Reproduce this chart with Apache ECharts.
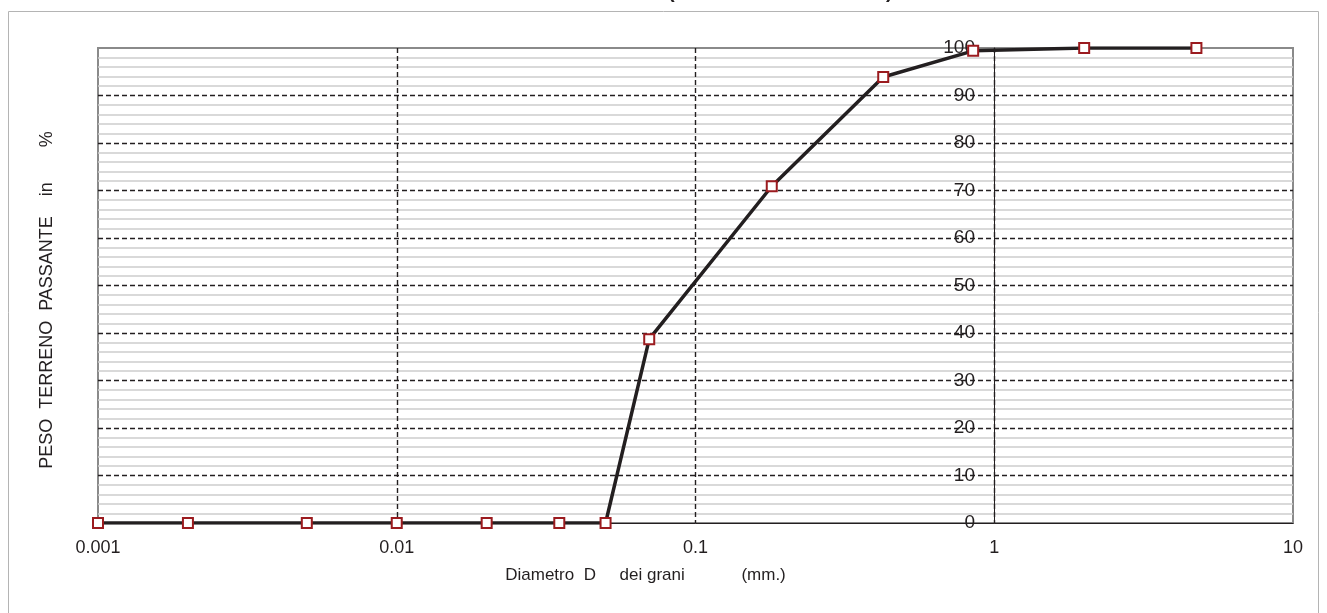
<!DOCTYPE html>
<html>
<head>
<meta charset="utf-8">
<script src="https://cdn.jsdelivr.net/npm/echarts@6/dist/echarts.min.js"></script>
<style>
html,body{margin:0;padding:0;background:#fff;}
#curva{width:1327px;height:613px;}
</style>
</head>
<body>
<div id="curva"></div>
<script>
// diametri (mm) e passante (%)
var diametri = [0.001, 0.002, 0.005, 0.01, 0.02, 0.035, 0.05, 0.07, 0.18, 0.425, 0.85, 2, 4.75];
var passante = [0, 0, 0, 0, 0, 0, 0, 38.7, 70.9, 93.9, 99.4, 100, 100];
var xTicks = ['0.001', '0.01', '0.1', '1', '10'];
var yTicks = ['0', '10', '20', '30', '40', '50', '60', '70', '80', '90', '100'];

var FONT = 'Liberation Sans, Arial, sans-serif';
var INK = '#231f20';

var myChart = echarts.init(document.getElementById('curva'));

var punti = [];
for (var k = 0; k < diametri.length; k++) {
	punti.push([diametri[k], passante[k]]);
}

option = {
	animation: false,
	grid: {
		left: 98, right: 34, top: 48, bottom: 90,
		show: true, borderColor: '#8a8a8a', borderWidth: 2
	},
	graphic: [
		{ type: 'rect', shape: { x: 8.5, y: 11.5, width: 1310, height: 640 },
		  style: { fill: 'none', stroke: '#b4b4b4', lineWidth: 1 }, z: -1 },
		{ type: 'text', x: 668, y: 2, style: { text: '(', font: 'bold 20px ' + FONT, fill: INK, verticalAlign: 'bottom' } },
		{ type: 'text', x: 886, y: 2, style: { text: ')', font: 'bold 20px ' + FONT, fill: INK, verticalAlign: 'bottom' } },
		{ type: 'text', x: 47, y: 300, rotation: Math.PI / 2,
		  style: { text: 'PESO  TERRENO  PASSANTE    in       %', font: '18px ' + FONT, fill: INK, align: 'center', verticalAlign: 'middle' } }
	],
	xAxis: {
		type: 'log', logBase: 10, min: 0.001, max: 10,
		name: 'Diametro  D     dei grani            (mm.)',
		nameLocation: 'middle', nameGap: 44,
		nameTextStyle: { fontFamily: FONT, fontSize: 17, color: INK, padding: [0, 100, 0, 0] },
		axisLine: { show: true, onZero: false, lineStyle: { color: INK, width: 1 } },
		axisTick: { show: false },
		axisLabel: {
			margin: 16, fontFamily: FONT, fontSize: 18, color: INK,
			formatter: function (v) {
				return xTicks[Math.round(Math.log10(v)) + 3];
			}
		},
		splitLine: { show: true, showMinLine: false, showMaxLine: false, lineStyle: { color: INK, type: [5, 3], width: 1.4 } },
		minorTick: { show: false },
		minorSplitLine: { show: false }
	},
	yAxis: [
		{
			type: 'value', min: 0, max: 100, interval: 10,
			axisLine: { show: false },
			axisTick: { show: false },
			axisLabel: { show: false },
			splitLine: { show: true, showMinLine: false, showMaxLine: false, lineStyle: { color: INK, type: [5, 3], width: 1.4 } },
			minorTick: { show: false, splitNumber: 5 },
			minorSplitLine: { show: true, lineStyle: { color: '#cdcdcd', width: 1.5 } }
		},
		{
			type: 'value', min: 0, max: 100, interval: 10,
			position: 'left', offset: -896,
			axisLine: { show: true, lineStyle: { color: INK, width: 1 } },
			axisTick: { show: false },
			axisLabel: {
				margin: 19, fontFamily: FONT, fontSize: 19, color: INK,
				formatter: function (v) { return yTicks[Math.round(v / 10)]; }
			},
			splitLine: { show: false }
		}
	],
	series: [
		{
			type: 'line',
			data: punti,
			yAxisIndex: 0,
			symbol: 'emptyRect',
			symbolSize: 10,
			lineStyle: { color: INK, width: 3.5 },
			itemStyle: { color: '#9b1b1f', borderColor: '#9b1b1f', borderWidth: 1.5 },
			z: 5
		}
	]
};
myChart.setOption(option);
</script>
</body>
</html>
